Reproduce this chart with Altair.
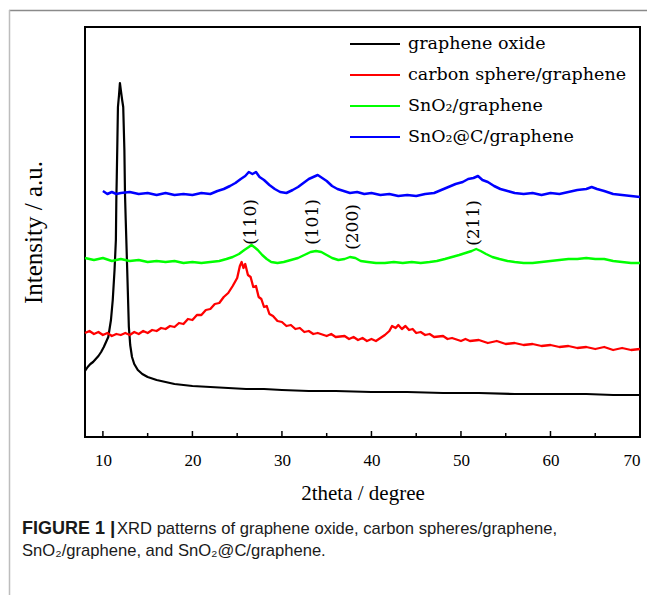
import altair as alt
import pandas as pd

# ---------------- data (2theta in degrees, intensity in a.u.) ----------------
names = ["graphene oxide", "carbon sphere/graphene", "SnO\u2082/graphene", "SnO\u2082@C/graphene"]
colors = ["#000000", "#ff0000", "#00ff00", "#0000ff"]
widths = [2.2, 2.5, 3.0, 3.0]

x_go = [8.0, 8.3, 8.6, 8.9, 9.2, 9.5, 9.8, 10.1, 10.4, 10.6,
        10.9, 11.1, 11.3, 11.45, 11.5, 11.55, 11.62, 11.68, 11.8, 11.9,
        12.0, 12.15, 12.27, 12.4, 12.47, 12.55, 12.65, 12.78, 12.9, 13.05,
        13.25, 13.5, 13.9, 14.4, 15.0, 16.0, 17.0, 18.0, 19.0, 20.0,
        22, 24, 26, 28, 30, 33, 36, 40, 44, 48,
        52, 56, 60, 64, 67, 70]
y_go = [66, 70, 73, 75, 78, 81, 85, 90, 96, 100,
        117, 137, 167, 197, 237, 260, 297, 330, 342, 354,
        347, 337, 330, 287, 242, 217, 187, 147, 110, 92,
        80, 73, 67, 63, 60, 57, 55, 53, 52, 51,
        50, 49, 48, 48, 47, 46, 46, 45, 45, 44,
        44, 43, 43, 43, 42, 42]

x_cs = [8.0, 8.5, 9.0, 9.5, 10.0, 10.5, 11.0, 11.5, 12.0, 12.5,
        13.0, 13.5, 14.0, 14.5, 15.0, 15.5, 16.0, 16.5, 17.0, 17.5,
        18.0, 18.5, 19.0, 19.5, 20.0, 20.5, 21.0, 21.5, 22.0, 22.5,
        23.0, 23.5, 24.0, 24.5, 25.0, 25.3, 25.5, 25.7, 25.9, 26.2,
        26.5, 26.8, 27.1, 27.4, 27.7, 28.0, 28.3, 28.6, 29.0, 29.5,
        30.0, 30.5, 31.0, 31.5, 32.0, 32.5, 33.0, 33.5, 34.0, 35.0,
        35.5, 36.0, 37.0, 37.5, 38.0, 38.5, 39.0, 39.5, 40.0, 40.5,
        41.0, 41.5, 42.0, 42.3, 42.7, 43.0, 43.4, 43.8, 44.2, 44.6,
        45.0, 45.5, 46.0, 46.5, 47.0, 48.0, 48.5, 49.0, 50.0, 50.5,
        51.0, 52.0, 53.0, 54.0, 55.0, 56.0, 57.0, 58.0, 59.0, 60.0,
        61.0, 62.0, 63.0, 64.0, 65.0, 66.0, 67.0, 68.0, 69.0, 70.0]
y_cs = [104, 106, 103, 105, 102, 104, 101, 103, 102, 104,
        102, 105, 103, 106, 104, 107, 106, 109, 108, 111,
        110, 114, 113, 118, 117, 122, 122, 127, 128, 133,
        134, 140, 144, 151, 159, 171, 175, 169, 173, 162,
        160, 150, 151, 140, 138, 130, 131, 123, 121, 116,
        115, 111, 112, 108, 109, 105, 106, 103, 104, 101,
        103, 100, 101, 98, 100, 97, 99, 96, 98, 96,
        99, 102, 106, 111, 109, 112, 108, 111, 107, 108,
        104, 105, 102, 103, 100, 101, 98, 99, 96, 98,
        96, 97, 94, 96, 93, 94, 92, 93, 91, 92,
        90, 91, 89, 90, 88, 90, 87, 89, 87, 88]

x_sn = [8, 9, 10, 11, 12, 13, 14, 15, 16, 17,
        18, 19, 20, 21, 22, 23, 23.8, 24.5, 25.2, 25.8,
        26.3, 26.6, 26.9, 27.3, 27.8, 28.3, 28.8, 29.5, 30.2, 31.0,
        31.8, 32.5, 33.2, 33.8, 34.4, 35.0, 35.6, 36.3, 37.0, 37.6,
        38.2, 38.8, 39.6, 40.5, 41.5, 42.5, 43.5, 44.5, 45.5, 46.5,
        47.3, 48.2, 49.0, 49.8, 50.5, 51.2, 51.7, 52.2, 52.8, 53.5,
        54.3, 55.2, 56.0, 57, 58, 59, 60, 61, 62, 63,
        64, 65, 66, 67, 68, 69, 70]
y_sn = [179, 177, 179, 176, 178, 176, 177, 175, 176, 175,
        176, 174, 175, 174, 175, 176, 178, 180, 183, 187,
        190, 192, 190, 187, 182, 178, 175, 174, 175, 177,
        179, 182, 185, 186, 185, 182, 179, 177, 178, 180,
        179, 176, 175, 174, 174, 175, 174, 175, 174, 175,
        176, 178, 180, 182, 184, 186, 188, 186, 183, 180,
        178, 176, 175, 174, 174, 175, 176, 177, 178, 178,
        179, 178, 178, 176, 175, 174, 174]

x_snc = [10, 10.5, 11, 11.5, 12, 13, 14, 15, 16, 17,
         18, 19, 20, 21, 22, 22.8, 23.5, 24.2, 24.8, 25.4,
         25.9, 26.3, 26.7, 27.1, 27.5, 28.0, 28.6, 29.2, 29.8, 30.5,
         31.2, 31.8, 32.4, 33.0, 33.5, 34.0, 34.5, 35.0, 35.6, 36.2,
         36.9, 37.6, 38.4, 39.2, 40.0, 41, 42, 43, 44, 45,
         46, 47, 47.8, 48.6, 49.4, 50.2, 50.8, 51.4, 51.9, 52.4,
         53.0, 53.7, 54.4, 55.2, 56.0, 57, 58, 59, 60, 61,
         62, 63, 64, 64.6, 65.2, 66, 67, 68, 69, 70]
y_snc = [246, 243, 245, 243, 244, 245, 243, 244, 242, 244,
         242, 243, 242, 244, 243, 246, 248, 251, 254, 258,
         261, 265, 263, 265, 260, 257, 252, 248, 245, 244,
         247, 250, 254, 258, 260, 262, 259, 256, 251, 248,
         246, 244, 245, 243, 244, 242, 243, 241, 242, 241,
         243, 244, 247, 250, 253, 255, 258, 259, 261, 257,
         255, 251, 248, 246, 244, 243, 244, 242, 244, 243,
         245, 247, 248, 250, 248, 246, 243, 242, 241, 240]

peak_labels = ["(110)", "(101)", "(200)", "(211)"]
peak_x = [26.5, 33.5, 37.9, 51.4]
peak_y = [215, 215, 210, 214]

x_ticks = [10, 20, 30, 40, 50, 60, 70]
minor_ticks = [15, 25, 35, 45, 55, 65]

# ---------------- tables ----------------
frames = []
for name, xs, ys in [(names[0], x_go, y_go), (names[1], x_cs, y_cs),
                     (names[2], x_sn, y_sn), (names[3], x_snc, y_snc)]:
    frames.append(pd.DataFrame({"two_theta": xs, "intensity": ys, "series": name}))
df = pd.concat(frames, ignore_index=True)

ann = pd.DataFrame({"two_theta": peak_x, "intensity": peak_y, "label": peak_labels})
major_df = pd.DataFrame({"two_theta": x_ticks})
minor_df = pd.DataFrame({"two_theta": minor_ticks})
one = pd.DataFrame({"k": [0]})

SERIF = "Liberation Serif"
WIDE_SERIF = "DejaVu Serif"
SANS = "Liberation Sans"

xscale = alt.Scale(domain=[8, 70], nice=False, zero=False)
yscale = alt.Scale(domain=[0, 410], nice=False, zero=False)

lines = alt.Chart(df).mark_line(strokeJoin="round").encode(
    x=alt.X("two_theta:Q", scale=xscale,
            axis=alt.Axis(values=x_ticks, title="2theta / degree", ticks=False, domain=False,
                          grid=False, labelFont=SERIF, labelFontSize=17, labelPadding=15,
                          labelColor="black", titleFont=SERIF, titleFontSize=21,
                          titleFontWeight="normal", titleColor="black", titlePadding=14)),
    y=alt.Y("intensity:Q", scale=yscale,
            axis=alt.Axis(labels=False, ticks=False, domain=False, grid=False,
                          title="Intensity / a.u.", titleFont=SERIF, titleFontSize=25,
                          titleFontWeight="normal", titleColor="black", titlePadding=39)),
    color=alt.Color("series:N", scale=alt.Scale(domain=names, range=colors), legend=None),
    strokeWidth=alt.StrokeWidth("series:N", scale=alt.Scale(domain=names, range=widths),
                                legend=None),
)

major = alt.Chart(major_df).mark_rule(color="black", strokeWidth=1.5).encode(
    x=alt.X("two_theta:Q", scale=xscale), y=alt.value(410), y2=alt.value(404))
minor = alt.Chart(minor_df).mark_rule(color="black", strokeWidth=1.5).encode(
    x=alt.X("two_theta:Q", scale=xscale), y=alt.value(410), y2=alt.value(406))

labels = alt.Chart(ann).mark_text(angle=270, font=WIDE_SERIF, fontSize=17, align="center",
                                  baseline="middle", color="black").encode(
    x=alt.X("two_theta:Q", scale=xscale), y=alt.Y("intensity:Q", scale=yscale), text="label:N")

# legend drawn inside the plot area (top right)
legend_layers = []
for i, (nm, col) in enumerate(zip(names, colors)):
    row_y = 17 + 31 * i
    legend_layers.append(
        alt.Chart(one).mark_rule(color=col, strokeWidth=2).encode(
            x=alt.value(265), x2=alt.value(315), y=alt.value(row_y)))
    legend_layers.append(
        alt.Chart(pd.DataFrame({"t": [nm]})).mark_text(
            font=WIDE_SERIF, fontSize=17.5, align="left", baseline="middle", color="black").encode(
            x=alt.value(323), y=alt.value(row_y), text="t:N"))

# outer figure border
border_top = alt.Chart(one).mark_rule(color="#8a8a8a", strokeWidth=1.5).encode(
    x=alt.value(-76), x2=alt.value(570), y=alt.value(-16.5))
border_left = alt.Chart(one).mark_rule(color="#bdbdbd", strokeWidth=1.5).encode(
    x=alt.value(-75.5), y=alt.value(-17), y2=alt.value(580))

cap1a = alt.Chart(pd.DataFrame({"t": ["FIGURE 1"]})).mark_text(
    font=SANS, fontSize=18, fontWeight="bold", align="left", baseline="middle", color="#1a1a1a").encode(
    x=alt.value(-63), y=alt.value(502), text="t:N")
cap1b = alt.Chart(pd.DataFrame({"t": ["|"]})).mark_text(
    font=SANS, fontSize=19, fontWeight="bold", align="left", baseline="middle", color="#1a1a1a").encode(
    x=alt.value(25), y=alt.value(501), text="t:N")
cap1c = alt.Chart(pd.DataFrame({"t": ["XRD patterns of graphene oxide, carbon spheres/graphene,"]})).mark_text(
    font=SANS, fontSize=16.6, align="left", baseline="middle", color="#1a1a1a").encode(
    x=alt.value(32), y=alt.value(502), text="t:N")
cap2 = alt.Chart(pd.DataFrame({"t": ["SnO\u2082/graphene, and SnO\u2082@C/graphene."]})).mark_text(
    font=SANS, fontSize=16.6, align="left", baseline="middle", color="#1a1a1a").encode(
    x=alt.value(-63), y=alt.value(524), text="t:N")

chart = alt.layer(lines, major, minor, labels, *legend_layers, border_top, border_left,
                  cap1a, cap1b, cap1c, cap2).properties(
    width=555, height=410,
    padding={"left": 85, "top": 27, "right": 7, "bottom": 158},
    autosize=alt.AutoSizeParams(type="none"),
    background="white",
).configure_view(stroke="black", strokeWidth=2)

chart.save("out.html", embed_options={"renderer": "svg", "actions": False})
